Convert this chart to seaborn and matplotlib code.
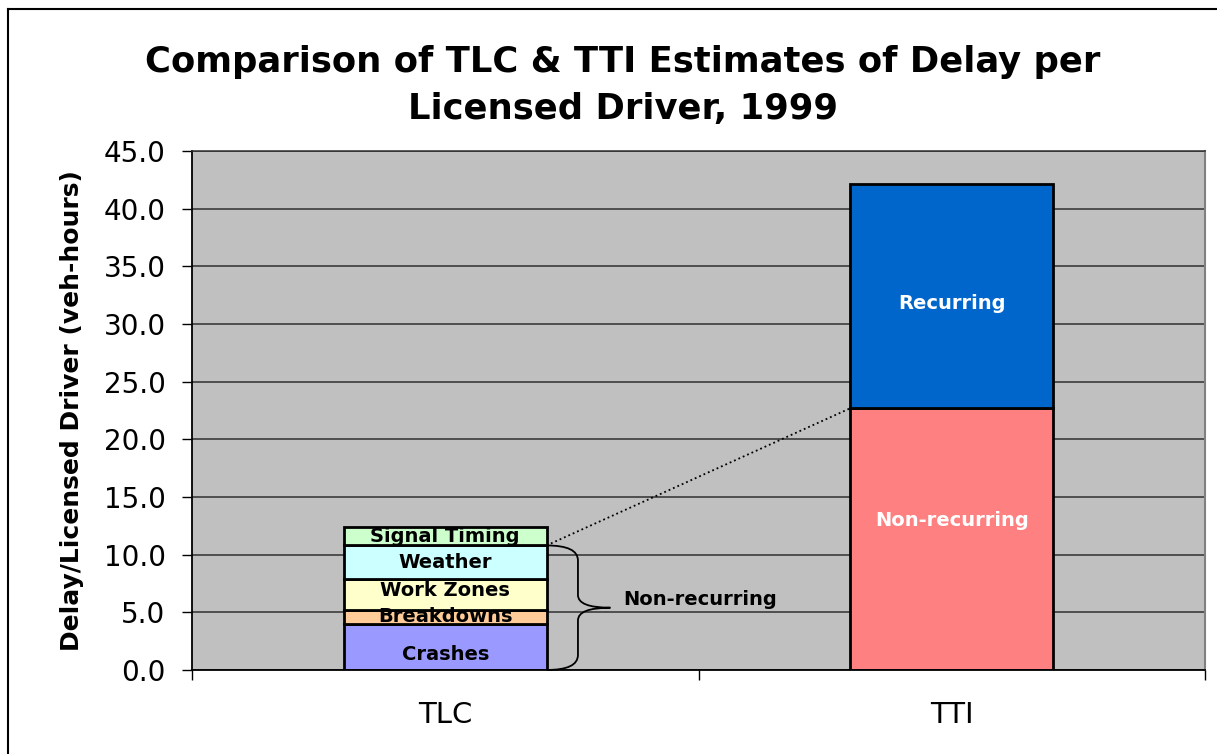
import matplotlib
matplotlib.use("Agg")
import matplotlib.pyplot as plt
import seaborn as sns
import pandas as pd
from matplotlib.path import Path
from matplotlib.patches import PathPatch
from matplotlib.lines import Line2D

# === Data ===
groups = ["TLC", "TTI"]
tlc_segments = ["Crashes", "Breakdowns", "Work Zones", "Weather", "Signal Timing"]
tlc_values = [4.0, 1.2, 2.7, 2.9, 1.6]
tti_segments = ["Non-recurring", "Recurring"]
tti_values = [22.7, 19.4]
y_ticks = [0, 5, 10, 15, 20, 25, 30, 35, 40, 45]

seg_colors = {
    "Crashes": "#9999FF",
    "Breakdowns": "#FFCC99",
    "Work Zones": "#FFFFCC",
    "Weather": "#CCFFFF",
    "Signal Timing": "#CCFFCC",
    "Non-recurring": "#FF8080",
    "Recurring": "#0066CC",
}
# labels are not exactly centred in the original
label_shift = {"Crashes": -0.65, "Work Zones": 0.3, "Non-recurring": 1.65, "Recurring": -0.6}

rows = []
for g, segs, vals in [("TLC", tlc_segments, tlc_values), ("TTI", tti_segments, tti_values)]:
    bottom = 0.0
    for s, v in zip(segs, vals):
        rows.append({"group": g, "segment": s, "value": v, "bottom": bottom})
        bottom += v
df = pd.DataFrame(rows)

bar_w = 0.4

fig = plt.figure(figsize=(12.17, 7.54), dpi=100)
ax = fig.add_axes([192 / 1217, 84 / 754, 1013 / 1217, 519 / 754])
ax.set_facecolor("#C0C0C0")

for _, r in df.iterrows():
    sns.barplot(x=[r["group"]], y=[r["value"]], order=groups, bottom=r["bottom"],
                color=seg_colors[r["segment"]], saturation=1, width=bar_w,
                edgecolor="black", linewidth=2, errorbar=None, ax=ax)
    gi = groups.index(r["group"])
    txt_color = "white" if r["group"] == "TTI" else "black"
    ax.text(gi, r["bottom"] + r["value"] / 2 + label_shift.get(r["segment"], 0.0), r["segment"],
            ha="center", va="center", fontsize=14, fontweight="bold", color=txt_color, zorder=5)

# === Brace and "Non-recurring" note for TLC ===
tlc = df[df["group"] == "TLC"].reset_index(drop=True)
top_nr = tlc.loc[3, "bottom"] + tlc.loc[3, "value"]  # top of Weather
x0 = bar_w / 2
xm = x0 + 0.062
xt = x0 + 0.126
tip = 5.4
r1 = 1.3
r2 = 1.1
verts = [(x0, top_nr), (xm, top_nr), (xm, top_nr - r1),
         (xm, tip + r2), (xm, tip), (xt, tip),
         (xm, tip), (xm, tip - r2),
         (xm, 0 + r1), (xm, 0), (x0, 0)]
codes = [Path.MOVETO, Path.CURVE3, Path.CURVE3,
         Path.LINETO, Path.CURVE3, Path.CURVE3,
         Path.CURVE3, Path.CURVE3,
         Path.LINETO, Path.CURVE3, Path.CURVE3]
ax.add_patch(PathPatch(Path(verts, codes), fill=False, edgecolor="black", lw=1.3, zorder=4, clip_on=False))
ax.text(xt + 0.026, 6.1, "Non-recurring", ha="left", va="center", fontsize=14, fontweight="bold", zorder=5)

# dotted link from TLC non-recurring total to TTI non-recurring
ax.plot([x0, 1 - bar_w / 2], [top_nr, tti_values[0]], ls=":", color="black", lw=1.3, zorder=4)

# === Axes styling ===
ax.set_xlim(-0.5, 1.5)
ax.set_ylim(0, 45)
ax.set_yticks(y_ticks)
ax.set_yticklabels([f"{t:.1f}" for t in y_ticks])
ax.yaxis.grid(True, color="#303030", lw=1.1)
ax.set_axisbelow(True)
ax.tick_params(axis="y", length=7, width=1, color="black", labelsize=20, pad=12)

ax.set_xticks([-0.5, 0.5, 1.5])
ax.set_xticklabels([])
ax.set_xticks([0, 1], minor=True)
ax.set_xticklabels(groups, minor=True)
ax.tick_params(axis="x", which="major", length=7, width=1, color="black")
ax.tick_params(axis="x", which="minor", length=0, labelsize=21, pad=22)

ax.set_xlabel("")
ax.set_ylabel("Delay/Licensed Driver (veh-hours)", fontsize=18, fontweight="bold", labelpad=14)

for side in ["left", "bottom"]:
    ax.spines[side].set_color("black")
    ax.spines[side].set_linewidth(1.3)
ax.spines["right"].set_color("#808080")
ax.spines["right"].set_linewidth(1.5)
ax.spines["top"].set_color("#303030")
ax.spines["top"].set_linewidth(1.1)

fig.text(623 / 1217, 1 - 45 / 754,
         "Comparison of TLC & TTI Estimates of Delay per\nLicensed Driver, 1999",
         ha="center", va="top", fontsize=25.5, fontweight="bold", linespacing=1.5)

# outer chart frame (left and top edges visible)
fig.add_artist(Line2D([8 / 1217, 8 / 1217], [0, 1 - 9 / 754], color="black", lw=1.5))
fig.add_artist(Line2D([8 / 1217, 1], [1 - 9 / 754, 1 - 9 / 754], color="black", lw=1.5))

fig.savefig("out.png", dpi=100)
plt.close(fig)
